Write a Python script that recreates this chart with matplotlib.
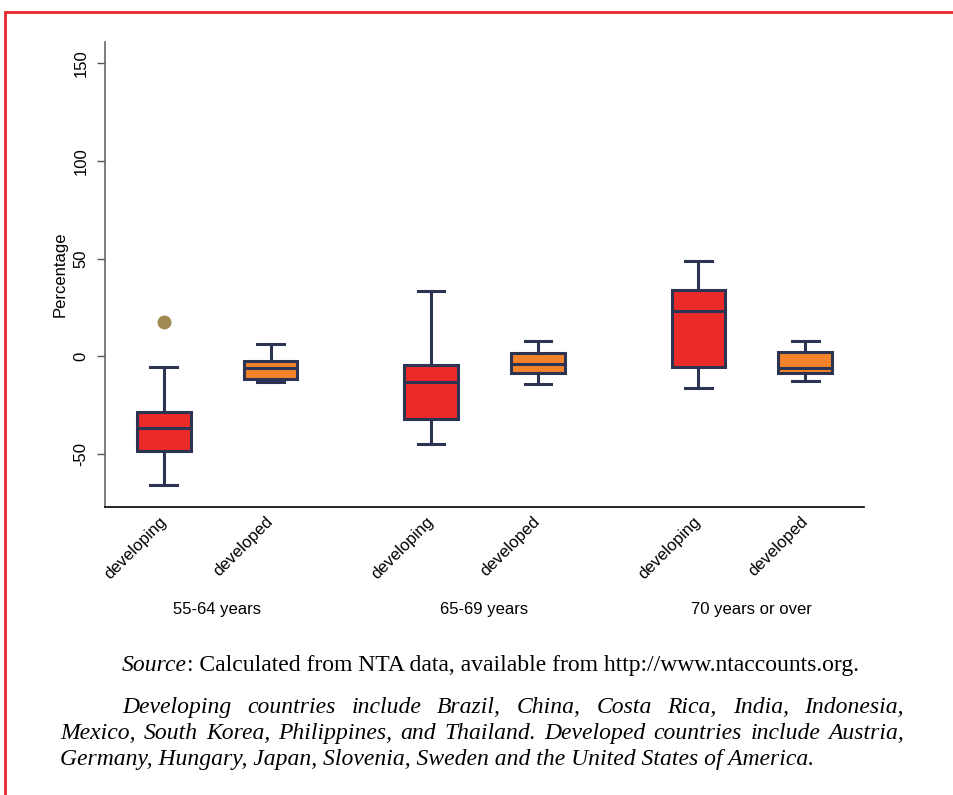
import matplotlib
matplotlib.use('Agg')
import matplotlib.pyplot as plt
from matplotlib.patches import Rectangle

# box statistics (percent)
positions = [1, 2, 3.5, 4.5, 6, 7]
tick_labels = ['developing', 'developed'] * 3
group_names = ['55-64 years', '65-69 years', '70 years or over']
whislo = [-66.1, -13.5, -45.1, -14.4, -16.2, -12.8]
q1 = [-48.5, -11.6, -32.3, -8.7, -5.6, -8.5]
med = [-37.1, -6.0, -13.3, -4.1, 23.2, -6.3]
q3 = [-28.9, -2.6, -4.6, 1.5, 33.8, 2.2]
whishi = [-5.8, 6.2, 33.3, 7.7, 48.8, 7.9]
fliers = [[17.3], [], [], [], [], []]

red = '#ec2a2a'
orange = '#f2832a'
navy = '#2c3454'
box_colors = [red, orange] * 3

source_text = 'Calculated from NTA data, available from http://www.ntaccounts.org.'
note_lines = [
    'Developing countries include Brazil, China, Costa Rica, India, Indonesia,',
    'Mexico, South Korea, Philippines, and Thailand. Developed countries include Austria,',
    'Germany, Hungary, Japan, Slovenia, Sweden and the United States of America.',
]

plt.rcParams['font.family'] = ['Liberation Sans', 'DejaVu Sans']

W, H = 954, 795
fig = plt.figure(figsize=(W / 100, H / 100), dpi=100)
ax = fig.add_axes([105 / W, 1 - 507 / H, (864 - 105) / W, (507 - 42) / H])

stats = []
for i in range(len(positions)):
    stats.append(dict(med=med[i], q1=q1[i], q3=q3[i], whislo=whislo[i],
                      whishi=whishi[i], fliers=fliers[i]))

bp = ax.bxp(stats, positions=positions, widths=0.5, patch_artist=True,
            boxprops=dict(edgecolor=navy, linewidth=2.2),
            medianprops=dict(color=navy, linewidth=2.2),
            whiskerprops=dict(color=navy, linewidth=2.2),
            capprops=dict(color=navy, linewidth=2.2),
            flierprops=dict(marker='o', markerfacecolor='#a08a52',
                            markeredgecolor='#a08a52', markersize=9))
for patch, c in zip(bp['boxes'], box_colors):
    patch.set_facecolor(c)

ax.set_xlim(0.45, 7.55)
ax.set_ylim(-77.4, 161)
ax.set_yticks([-50, 0, 50, 100, 150])
ax.set_yticklabels(['-50', '0', '50', '100', '150'], rotation=90, va='center')
ax.tick_params(axis='y', labelsize=12, length=6, width=1, color='#555555', pad=6)
ax.set_ylabel('Percentage', fontsize=12, labelpad=4)

ax.set_xticks(positions)
ax.set_xticklabels(tick_labels, rotation=45, ha='right', va='center',
                   rotation_mode='anchor', fontsize=12)
ax.tick_params(axis='x', length=0, pad=9)

for side in ['top', 'right']:
    ax.spines[side].set_visible(False)
ax.spines['left'].set_color('#666666')
ax.spines['left'].set_linewidth(1.2)
ax.spines['bottom'].set_color('black')
ax.spines['bottom'].set_linewidth(1.2)

for k, name in enumerate(group_names):
    xc = (positions[2 * k] + positions[2 * k + 1]) / 2
    ax.text(xc, -0.22, name, transform=ax.get_xaxis_transform(),
            ha='center', va='center', fontsize=12)

# red frame around the figure
fig.patches.append(Rectangle((5 / W, -0.1), 1.2, 1 - 12 / H + 0.1,
                             transform=fig.transFigure, fill=False,
                             edgecolor='#e8282b', linewidth=2))

serif = ['Liberation Serif', 'DejaVu Serif']
fs = 17
renderer = fig.canvas.get_renderer()
t0 = fig.text(122 / W, 1 - 671 / H, 'Source', fontsize=fs, family=serif,
              style='italic', va='baseline')
w0 = t0.get_window_extent(renderer).width
fig.text((122 + w0) / W, 1 - 671 / H, ': ' + source_text, fontsize=fs,
         family=serif, va='baseline')


def justify(line, x0, x1, y):
    words = line.split()
    objs = [fig.text(0, 1 - y / H, w, fontsize=fs, family=serif,
                     style='italic', va='baseline') for w in words]
    widths = [o.get_window_extent(renderer).width for o in objs]
    gap = (x1 - x0 - sum(widths)) / (len(words) - 1)
    x = x0
    for o, w in zip(objs, widths):
        o.set_x(x / W)
        x += w + gap


justify(note_lines[0], 122, 904, 713)
justify(note_lines[1], 60, 904, 739)
fig.text(60 / W, 1 - 765 / H, note_lines[2], fontsize=fs, family=serif,
         style='italic', va='baseline')

fig.savefig('out.png', dpi=100)
